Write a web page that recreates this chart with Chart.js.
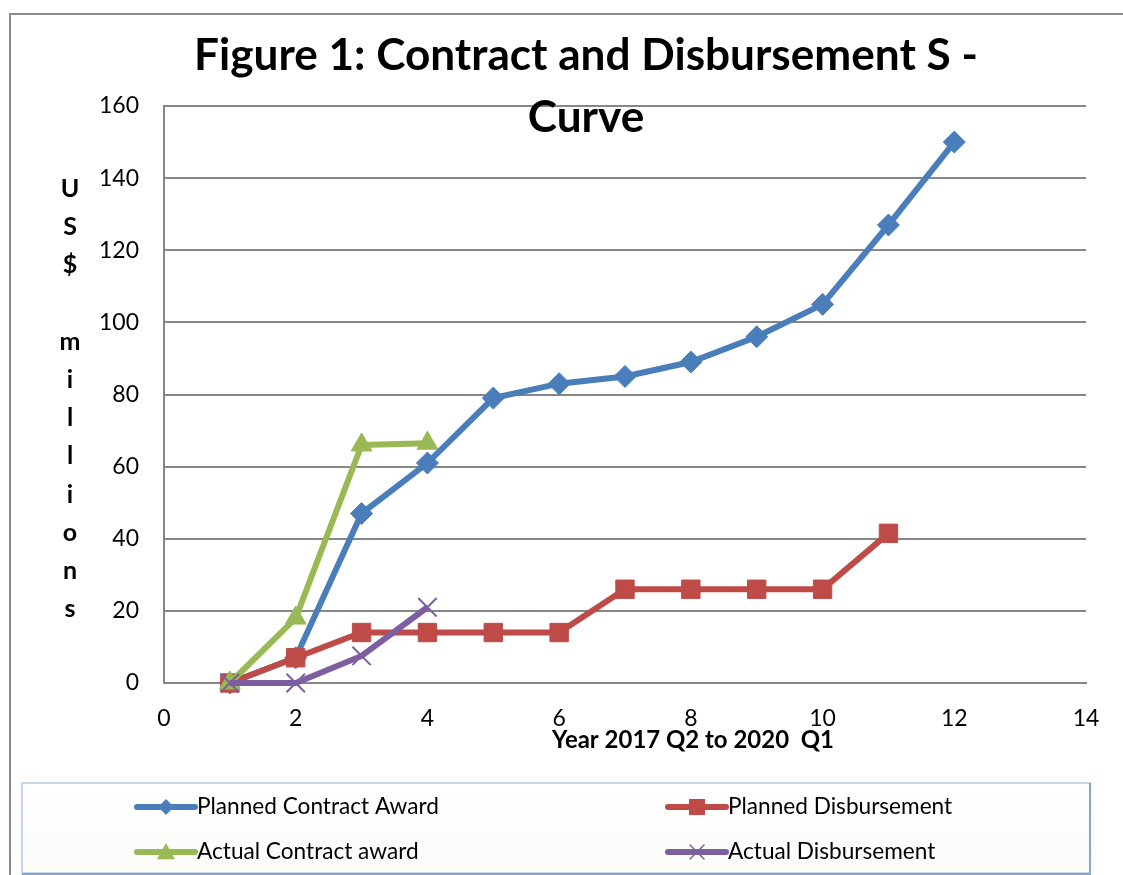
<!DOCTYPE html>
<html><head><meta charset="utf-8">
<script src="https://cdn.jsdelivr.net/npm/chart.js@4.4.1/dist/chart.umd.min.js"></script>
<style>html,body{margin:0;padding:0;background:#fff;}#wrap{width:1123px;height:875px;position:relative;}</style>
</head><body><div id="wrap"><canvas id="c" width="1123" height="875"></canvas></div>
<script>
const xValues = [1, 2, 3, 4, 5, 6, 7, 8, 9, 10, 11, 12];
const plannedContractAward = [0, 7, 47, 61, 79, 83, 85, 89, 96, 105, 127, 150];
const plannedDisbursement = [0, 7, 14, 14, 14, 14, 26, 26, 26, 26, 41.5];
const actualContractAward = [0, 18, 66, 66.5];
const actualDisbursement = [0, 0, 7.5, 21];
const seriesNames = ['Planned Contract Award', 'Planned Disbursement', 'Actual Contract award', 'Actual Disbursement'];
const xAxisRange = [0, 14, 2];
const yAxisRange = [0, 160, 20];
const titleLines = ['Figure 1: Contract and Disbursement S -', 'Curve'];
const yAxisLetters = ['U', 'S', '$', '', 'm', 'i', 'l', 'l', 'i', 'o', 'n', 's'];
const xAxisTitle = 'Year 2017 Q2 to 2020  Q1';

const FONT = 'Lato, "Open Sans", sans-serif';
const COLORS = ['#4a7ebb', '#be4b48', '#98b954', '#7d5fa0'];
const toPts = arr => arr.map((v, i) => ({x: xValues[i], y: v}));

function fitSize(ctx, text, weight, target) {
  ctx.font = weight + ' 100px ' + FONT;
  return 100 * target / ctx.measureText(text).width;
}

function marker(ctx, style, x, y, r, color) {
  ctx.save();
  ctx.fillStyle = color; ctx.strokeStyle = color;
  ctx.beginPath();
  if (style === 'rectRot') {
    ctx.moveTo(x, y - r); ctx.lineTo(x + r, y); ctx.lineTo(x, y + r); ctx.lineTo(x - r, y); ctx.closePath(); ctx.fill();
  } else if (style === 'rect') {
    ctx.rect(x - r, y - r, 2 * r, 2 * r); ctx.fill();
  } else if (style === 'triangle') {
    ctx.moveTo(x, y - r); ctx.lineTo(x + r, y + r * 0.8); ctx.lineTo(x - r, y + r * 0.8); ctx.closePath(); ctx.fill();
  } else {
    ctx.lineWidth = 1.5;
    ctx.moveTo(x - r, y - r); ctx.lineTo(x + r, y + r); ctx.moveTo(x + r, y - r); ctx.lineTo(x - r, y + r); ctx.stroke();
  }
  ctx.restore();
}

const decor = {
  id: 'decor',
  beforeDraw(chart) {
    const ctx = chart.ctx;
    ctx.save();
    ctx.fillStyle = '#fff'; ctx.fillRect(0, 0, chart.width, chart.height);
    ctx.strokeStyle = '#8c8c8c'; ctx.lineWidth = 2;
    ctx.beginPath(); ctx.moveTo(10, chart.height); ctx.lineTo(10, 14); ctx.lineTo(chart.width, 14); ctx.stroke();
    ctx.restore();
  },
  afterDraw(chart) {
    const ctx = chart.ctx;
    ctx.save();
    ctx.fillStyle = '#000';
    ctx.textAlign = 'center'; ctx.textBaseline = 'alphabetic';
    // title
    const ts = fitSize(ctx, titleLines[0], 'bold', 784);
    ctx.font = 'bold ' + ts + 'px ' + FONT;
    ctx.fillText(titleLines[0], 586, 70);
    ctx.fillText(titleLines[1], 586, 132);
    // y axis label
    ctx.font = 'bold 25px ' + FONT;
    yAxisLetters.forEach((ch, i) => { if (ch) ctx.fillText(ch, 70, 197 + i * 38.2); });
    // x axis title
    const xs = fitSize(ctx, xAxisTitle, 'bold', 282);
    ctx.font = 'bold ' + xs + 'px ' + FONT;
    ctx.fillText(xAxisTitle, 693, 748);
    // legend box
    const g = ctx.createLinearGradient(0, 783, 0, 873);
    g.addColorStop(0, '#ffffff'); g.addColorStop(1, '#fbfbf8');
    ctx.fillStyle = g; ctx.fillRect(22, 783, 1068, 90);
    ctx.strokeStyle = '#c6d6ea'; ctx.lineWidth = 2; ctx.strokeRect(22, 783, 1068, 90);
    ctx.strokeStyle = '#8aa6c8'; ctx.lineWidth = 2;
    ctx.beginPath(); ctx.moveTo(1090, 783); ctx.lineTo(1090, 874); ctx.lineTo(22, 874); ctx.stroke();
    const ls = fitSize(ctx, seriesNames[0], 'normal', 242);
    const cols = [137, 668], rows = [807, 852], bases = [814, 859];
    const styles = ['rectRot', 'rect', 'triangle', 'crossRot'];
    const sizes = [8, 8, 9, 7];
    seriesNames.forEach((name, i) => {
      const cx = cols[i % 2], ry = rows[Math.floor(i / 2)];
      ctx.strokeStyle = COLORS[i]; ctx.lineWidth = 6; ctx.lineCap = 'round';
      ctx.beginPath(); ctx.moveTo(cx, ry); ctx.lineTo(cx + 58, ry); ctx.stroke();
      marker(ctx, styles[i], cx + 29, ry, sizes[i], COLORS[i]);
      ctx.fillStyle = '#000'; ctx.textAlign = 'left';
      ctx.font = ls + 'px ' + FONT;
      ctx.fillText(name, cx + 60, bases[Math.floor(i / 2)]);
    });
    ctx.restore();
  }
};

const mk = (i, data, style, radius, order, bw) => ({
  label: seriesNames[i], data: toPts(data),
  borderColor: COLORS[i], backgroundColor: COLORS[i],
  borderWidth: 6, pointStyle: style, pointRadius: radius,
  pointBorderWidth: bw, pointBackgroundColor: COLORS[i], pointBorderColor: COLORS[i],
  tension: 0, clip: false, order: order
});

new Chart(document.getElementById('c'), {
  type: 'line',
  data: {
    datasets: [
      mk(0, plannedContractAward, 'rectRot', 11, 4, 1),
      mk(1, plannedDisbursement, 'rect', 13, 3, 1),
      mk(2, actualContractAward, 'triangle', 12, 2, 1),
      mk(3, actualDisbursement, 'crossRot', 13, 1, 2)
    ]
  },
  options: {
    responsive: false, animation: false, devicePixelRatio: 1,
    layout: {padding: {top: 106, right: 37, left: 0, bottom: 0}},
    plugins: {legend: {display: false}, title: {display: false}, tooltip: {enabled: false}},
    scales: {
      x: {
        type: 'linear', min: xAxisRange[0], max: xAxisRange[1],
        ticks: {stepSize: xAxisRange[2], color: '#000', font: {family: FONT, size: 23}, padding: 22, maxRotation: 0},
        grid: {display: false, drawTicks: false},
        border: {display: true, color: '#878787', width: 2},
        afterFit: s => { s.height = 192; }
      },
      y: {
        min: yAxisRange[0], max: yAxisRange[1],
        ticks: {stepSize: yAxisRange[2], color: '#000', font: {family: FONT, size: 23}, padding: 25},
        grid: {color: '#878787', lineWidth: 2, drawTicks: false},
        border: {display: true, color: '#878787', width: 2},
        afterFit: s => { s.width = 164; }
      }
    }
  },
  plugins: [decor]
});
</script></body></html>
